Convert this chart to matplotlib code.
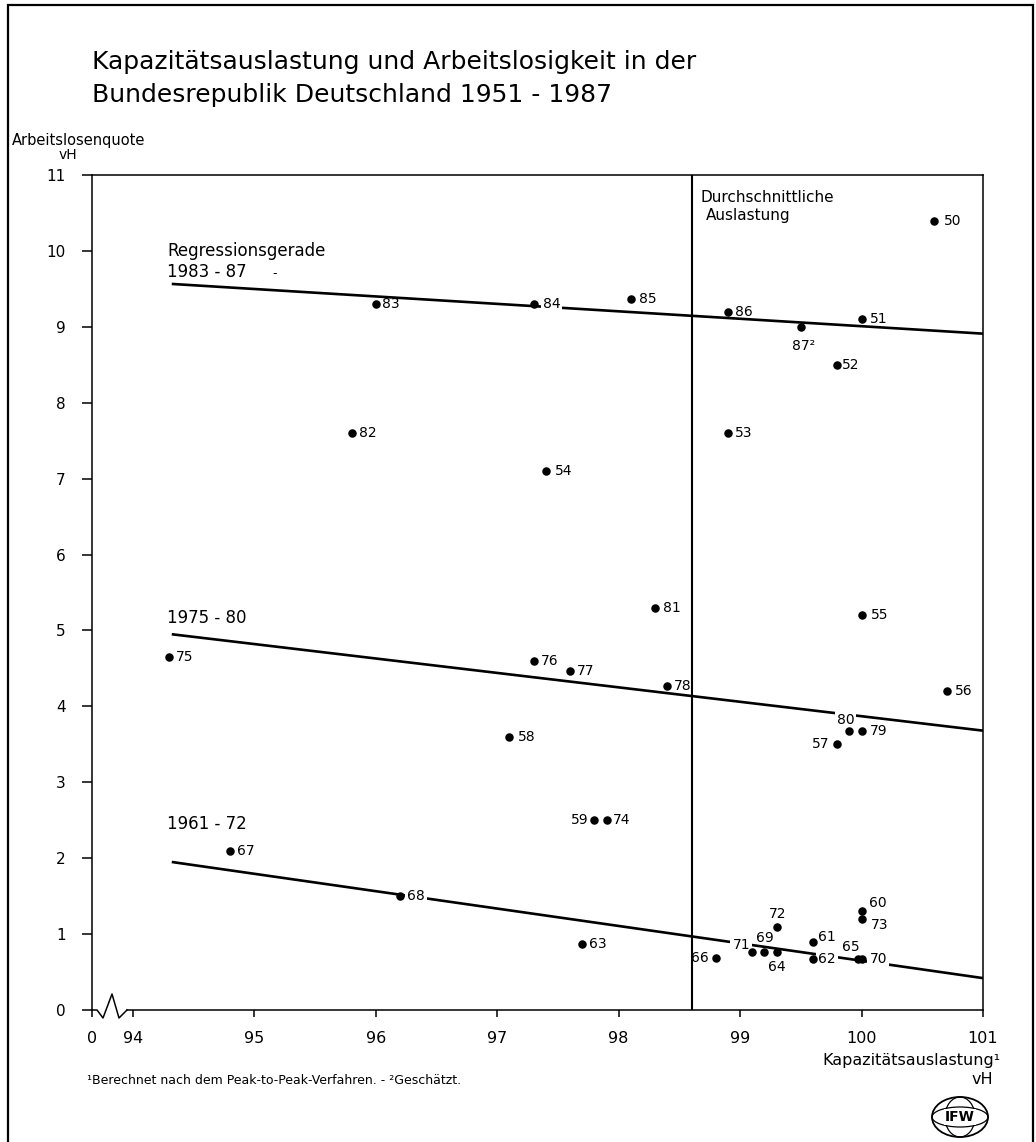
import matplotlib.pyplot as plt
from matplotlib.patches import Ellipse, Rectangle

# --- data ---
jahre = ['50', '51', '52', '53', '54', '55', '56', '57', '58', '59',
         '60', '61', '62', '63', '64', '65', '66', '67', '68', '69',
         '70', '71', '72', '73', '74', '75', '76', '77', '78', '79',
         '80', '81', '82', '83', '84', '85', '86', '87']
auslastung = [100.6, 100.0, 99.8, 98.9, 97.4, 100.0, 100.7, 99.8, 97.1, 97.8,
              100.0, 99.6, 99.6, 97.7, 99.3, 99.97, 98.8, 94.8, 96.2, 99.2,
              100.0, 99.1, 99.3, 100.0, 97.9, 94.3, 97.3, 97.6, 98.4, 100.0,
              99.9, 98.3, 95.8, 96.0, 97.3, 98.1, 98.9, 99.5]
arbeitslosenquote = [10.4, 9.1, 8.5, 7.6, 7.1, 5.2, 4.2, 3.5, 3.6, 2.5,
                     1.3, 0.9, 0.67, 0.87, 0.76, 0.67, 0.68, 2.1, 1.5, 0.76,
                     0.67, 0.76, 1.1, 1.2, 2.5, 4.65, 4.6, 4.47, 4.27, 3.68,
                     3.68, 5.3, 7.6, 9.3, 9.3, 9.37, 9.2, 9.0]
label_text = {'87': '87²'}

# regression lines (start x, end x, start y, end y)
reg_namen = ['1983 - 87', '1975 - 80', '1961 - 72']
reg_x = [94.32, 101.0]
reg_y = [[9.565, 8.91], [4.95, 3.68], [1.95, 0.42]]

durchschnitt = 98.6
xticks = [94, 95, 96, 97, 98, 99, 100, 101]
yticks = list(range(0, 12))

# label placement: (dx px, dy px downwards, ha, white background)
off = {
    '50': (10, 0, 'left', False), '51': (8, 0, 'left', False),
    '52': (5, 0, 'left', False), '53': (7, 0, 'left', False),
    '54': (9, 0, 'left', False), '55': (9, 0, 'left', False),
    '56': (8, 0, 'left', False), '57': (-8, 0, 'right', False),
    '58': (9, 0, 'left', False), '59': (-6, 0, 'right', False),
    '60': (7, -8, 'left', False), '61': (5, -5, 'left', False),
    '62': (5, 0, 'left', True), '63': (7, 0, 'left', False),
    '64': (0, 15, 'center', False), '65': (-7, -12, 'center', True),
    '66': (-7, 0, 'right', False), '67': (7, 0, 'left', False),
    '68': (7, 0, 'left', True), '69': (0, -14, 'center', False),
    '70': (8, 0, 'left', True), '71': (-11, -7, 'center', True),
    '72': (1, -13, 'center', False), '73': (9, 6, 'left', False),
    '74': (6, 0, 'left', False), '75': (7, 0, 'left', False),
    '76': (7, 0, 'left', False), '77': (7, 0, 'left', False),
    '78': (7, 0, 'left', False), '79': (8, 0, 'left', False),
    '80': (-4, -11, 'center', True), '81': (8, 0, 'left', False),
    '82': (7, 0, 'left', False), '83': (6, 0, 'left', False),
    '84': (9, 0, 'left', True), '85': (8, 0, 'left', False),
    '86': (7, 0, 'left', False), '87': (3, 19, 'center', True),
}

plt.rcParams['font.family'] = ['DejaVu Sans']
fig = plt.figure(figsize=(10.36, 11.42), dpi=100)
ax = fig.add_axes([92 / 1036, 1 - 1010 / 1142, 891 / 1036, 835 / 1142])

x_links = 94 - 41 / 121.7
ax.set_xlim(x_links, 101)
ax.set_ylim(0, 11)

# regression lines
for yy in reg_y:
    ax.plot(reg_x, yy, color='black', lw=1.9, solid_capstyle='butt', zorder=2)

ax.axvline(durchschnitt, color='black', lw=1.5, zorder=2)

ax.scatter(auslastung, arbeitslosenquote, s=26, color='black', zorder=5)

for j, xv, yv in zip(jahre, auslastung, arbeitslosenquote):
    dx, dy, ha, weiss = off[j]
    bb = dict(facecolor='white', edgecolor='none', pad=1.5) if weiss else None
    ax.annotate(label_text.get(j, j), (xv, yv), xytext=(dx, -dy),
                textcoords='offset pixels', ha=ha, va='center',
                fontsize=10, bbox=bb, zorder=4)

# line labels
ax.text(94.28, 10.0, 'Regressionsgerade', fontsize=12, va='center', ha='left')
ax.text(94.28, 9.72, reg_namen[0], fontsize=12, va='center', ha='left')
ax.text(95.15, 9.7, '-', fontsize=9, va='center', ha='left')
ax.text(94.28, 5.17, reg_namen[1], fontsize=12, va='center', ha='left')
ax.text(94.28, 2.45, reg_namen[2], fontsize=12, va='center', ha='left')
ax.text(98.67, 10.7, 'Durchschnittliche', fontsize=11, va='center', ha='left')
ax.text(98.72, 10.47, 'Auslastung', fontsize=11, va='center', ha='left')

# axes styling
for s in ['left', 'top', 'right']:
    ax.spines[s].set_linewidth(1.1)
ax.spines['bottom'].set_visible(False)
ax.set_yticks(yticks)
ax.set_yticklabels([str(v) for v in yticks], fontsize=11)
ax.set_xticks([x_links] + xticks)
ax.set_xticklabels(['0'] + [str(v) for v in xticks], fontsize=11.5)
ax.tick_params(axis='y', direction='out', length=7, width=1.1, pad=12)
ax.tick_params(axis='x', direction='out', length=5, width=1.1, pad=10)

# bottom axis with break
W, H = 891.0, 835.0
def axfrac(px, py):
    return [(p - 92) / W for p in px], [(1010 - q) / H for q in py]
zx, zy = axfrac([92, 97, 103, 112, 119, 127], [1010, 1010, 1018, 994, 1018, 1010])
ax.plot(zx, zy, color='black', lw=1.1, transform=ax.transAxes, clip_on=False)
ax.plot([(127 - 92) / W, 1], [0, 0], color='black', lw=1.1,
        transform=ax.transAxes, clip_on=False)

# texts around
fig.text(92 / 1036, 1 - 62 / 1142, 'Kapazitätsauslastung und Arbeitslosigkeit in der',
         fontsize=18, va='center', ha='left')
fig.text(92 / 1036, 1 - 95 / 1142, 'Bundesrepublik Deutschland 1951 - 1987',
         fontsize=18, va='center', ha='left')
fig.text(12 / 1036, 1 - 141 / 1142, 'Arbeitslosenquote', fontsize=10.5, va='center', ha='left')
fig.text(68 / 1036, 1 - 155 / 1142, 'vH', fontsize=10, va='center', ha='center')
fig.text(1000 / 1036, 1 - 1060 / 1142, 'Kapazitätsauslastung¹', fontsize=11.5,
         va='center', ha='right')
fig.text(993 / 1036, 1 - 1080 / 1142, 'vH', fontsize=11.5, va='center', ha='right')
fig.text(87 / 1036, 1 - 1080 / 1142,
         '¹Berechnet nach dem Peak-to-Peak-Verfahren. - ²Geschätzt.',
         fontsize=9, va='center', ha='left')

# outer frame
fig.add_artist(Rectangle((8 / 1036, -0.01), 1025 / 1036, 1.01 - 5 / 1142,
                         transform=fig.transFigure, fill=False, lw=1.6,
                         edgecolor='black'))

# IFW logo
cx, cy = 9.60, (1142 - 1117) / 100
t = fig.dpi_scale_trans
fig.add_artist(Ellipse((cx, cy), 0.56, 0.40, transform=t, fill=False, lw=1.3))
fig.add_artist(Ellipse((cx, cy), 0.30, 0.40, transform=t, fill=False, lw=0.9))
fig.add_artist(Ellipse((cx, cy), 0.56, 0.20, transform=t, fill=False, lw=0.9))
fig.text(cx / 10.36, cy / 11.42, 'IFW', fontsize=10, fontweight='bold',
         ha='center', va='center',
         bbox=dict(facecolor='white', edgecolor='none', pad=0.5))

fig.savefig('out.png', dpi=100)
